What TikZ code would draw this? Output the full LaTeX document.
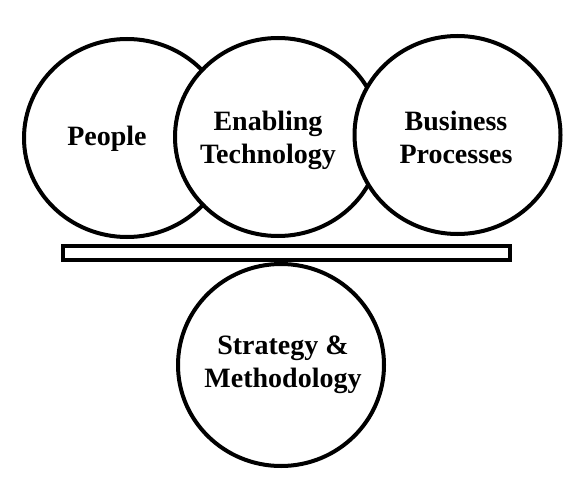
\documentclass[tikz,border=0pt]{standalone}
\usepackage{fontspec}
\setmainfont{Liberation Serif}
\usetikzlibrary{shapes.geometric}
\begin{document}
\begin{tikzpicture}[x=1pt,y=1pt,
  ring/.style={ellipse, draw=black, fill=white, line width=4pt, inner sep=0pt,
               minimum width=206pt, minimum height=198pt},
  bar/.style={rectangle, draw=black, fill=white, line width=4pt, inner sep=0pt,
              minimum width=447pt, minimum height=14pt},
  lbl/.style={font=\fontsize{28}{33}\selectfont\bfseries, align=center, inner sep=0pt}]
\useasboundingbox (0,0) rectangle (583,491);
% top row of circles (drawn left to right so each covers the previous)
\node[ring] (people) at (127,353) {};
\node[ring] (tech) at (278,354) {};
\node[ring] (biz) at (457.5,356) {};
% base circle and bar
\node[ring, minimum height=202pt] (strat) at (281,126) {};
\node[bar] (plank) at (286.5,238) {};
% labels
\node[lbl] (tpeople) at (107,352) {People};
\node[lbl] (ttech) at (268,351) {Enabling\\Technology};
\node[lbl] (tbiz) at (456,354) {Business\\Processes};
\node[lbl] (tstrat) at (283,126.5) {Strategy \&\\Methodology};
\end{tikzpicture}
\end{document}
